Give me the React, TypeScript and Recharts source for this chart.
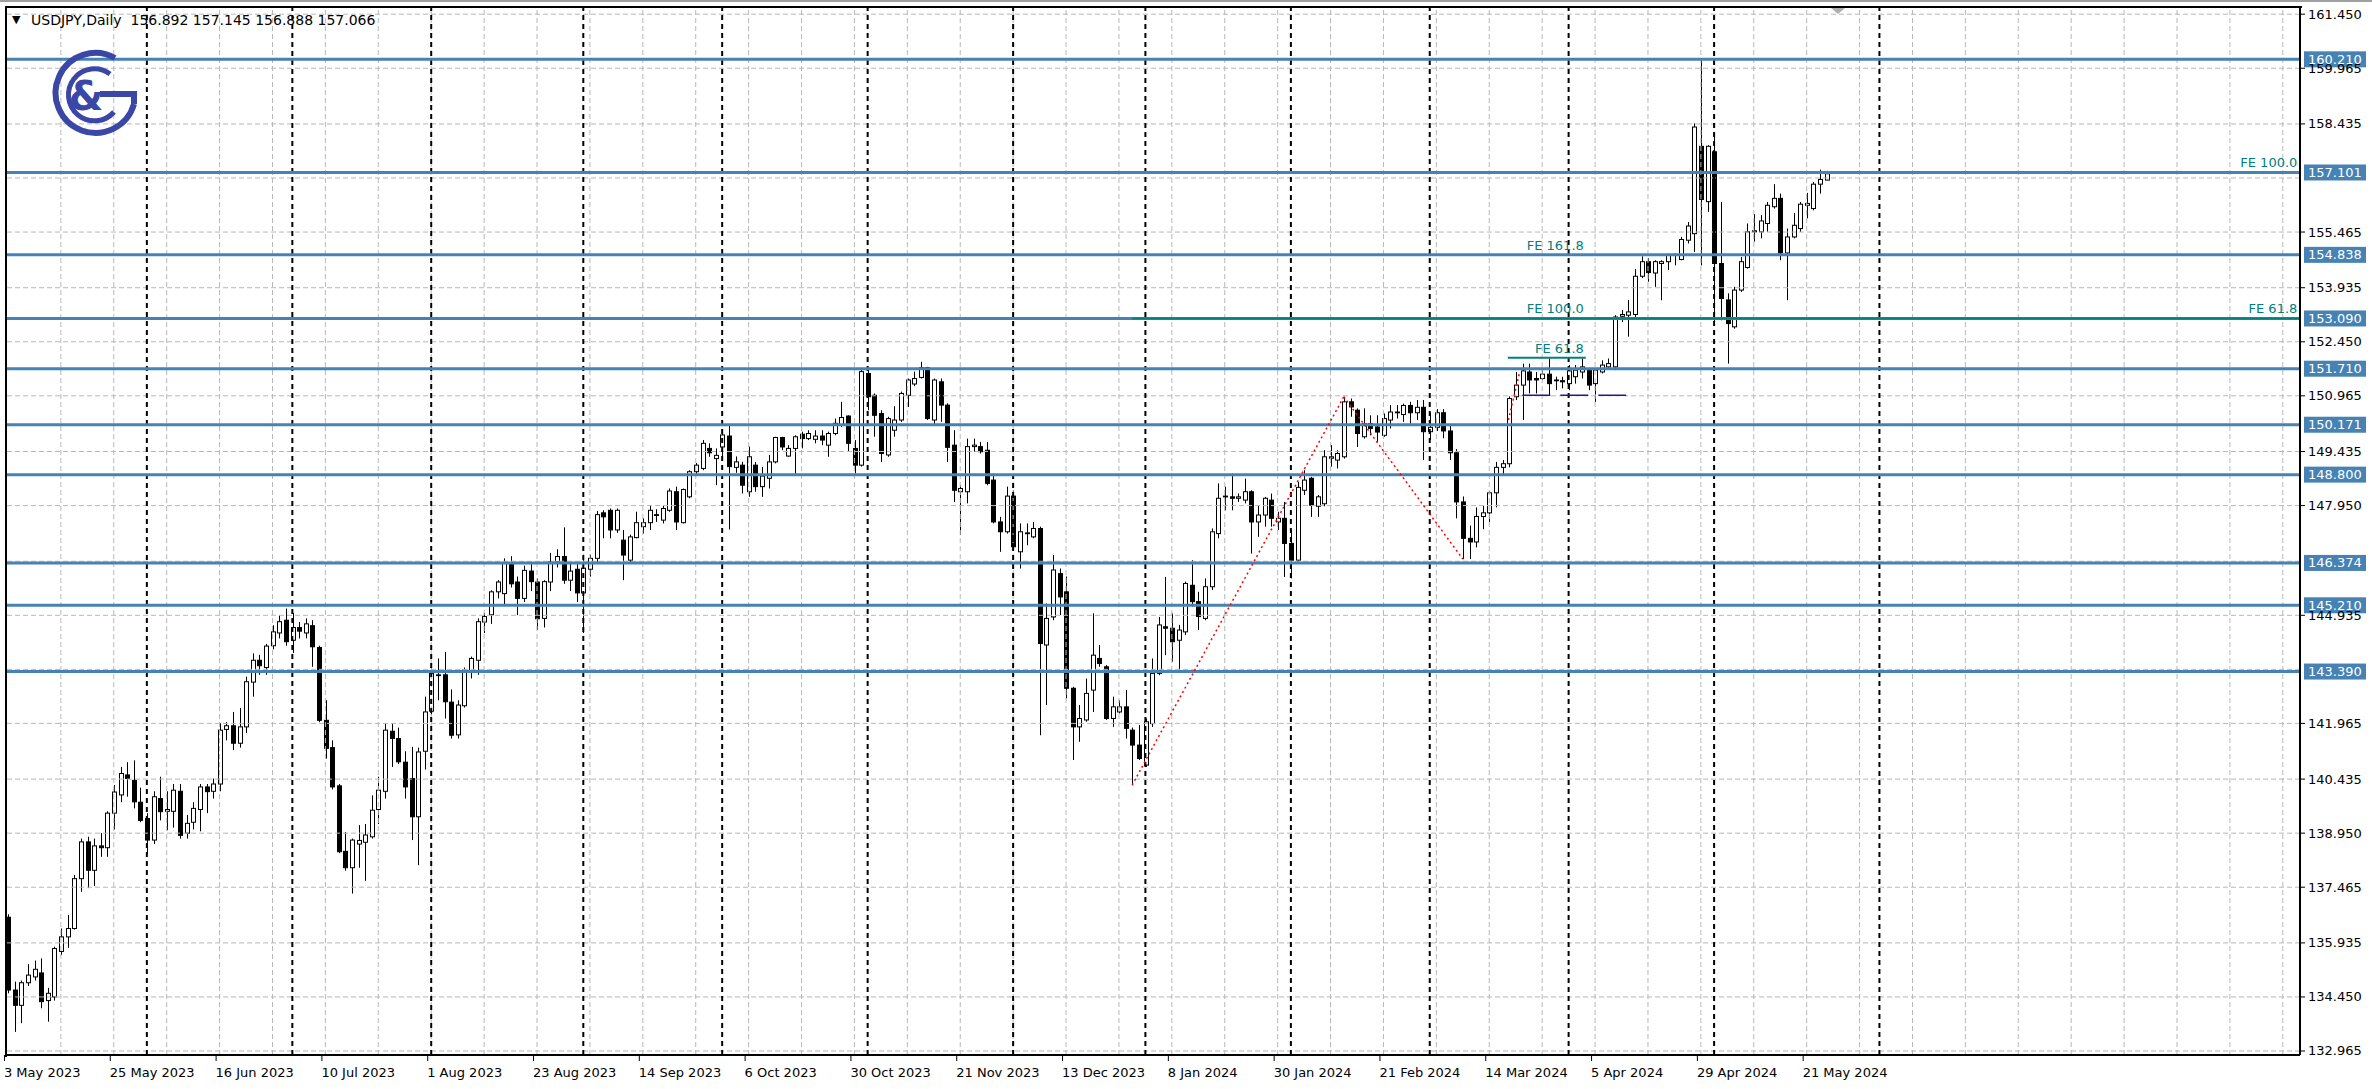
import React from "react";
import { ComposedChart, Bar, XAxis, YAxis, ReferenceLine, ReferenceDot } from "recharts";

document.body.style.margin = "0";

type Ohlc = [number, number, number, number]; // open, high, low, close

// daily candles, one array per month
const MAY_2023: Ohlc[] = [
  [136.64, 136.72, 134.55, 134.64], [134.64, 134.87, 133.49, 134.22], [134.22, 134.9, 133.73, 134.84],
  [134.84, 135.35, 134.75, 135.05], [135.0, 135.45, 134.9, 135.21], [135.11, 135.51, 134.14, 134.32],
  [134.35, 134.7, 133.77, 134.55], [134.45, 135.83, 134.35, 135.78], [135.7, 136.33, 135.6, 136.1],
  [136.1, 136.7, 135.8, 136.33], [136.33, 137.8, 136.3, 137.7], [137.7, 138.8, 137.34, 138.71],
  [138.71, 138.85, 137.44, 137.93], [137.93, 138.8, 137.5, 138.6], [138.6, 138.95, 138.3, 138.55],
  [138.55, 139.55, 138.3, 139.5], [139.5, 140.27, 139.05, 140.08], [140.0, 140.77, 139.8, 140.59],
  [140.55, 140.9, 139.95, 140.45], [140.4, 140.95, 139.63, 139.81], [139.8, 140.2, 139.25, 139.3],
];
const JUN_2023: Ohlc[] = [
  [139.35, 139.5, 138.39, 138.76], [138.76, 140.1, 138.65, 139.95], [139.9, 140.5, 139.3, 139.54],
  [139.55, 140.1, 139.03, 139.6], [139.55, 140.3, 139.1, 140.13], [140.1, 140.3, 138.8, 138.89],
  [138.95, 139.45, 138.8, 139.22], [139.25, 139.8, 139.05, 139.63], [139.6, 140.3, 139.0, 140.22],
  [140.22, 140.3, 139.5, 140.09], [140.1, 140.45, 139.9, 140.3], [140.3, 141.97, 140.1, 141.78],
  [141.8, 142.0, 141.5, 141.9], [141.9, 142.28, 141.23, 141.42], [141.42, 142.39, 141.3, 141.87],
  [141.87, 143.25, 141.7, 143.11], [143.1, 143.89, 142.7, 143.7], [143.7, 143.85, 143.3, 143.55],
  [143.5, 144.15, 143.3, 144.09], [144.1, 144.66, 144.0, 144.48], [144.45, 144.94, 144.3, 144.76],
  [144.8, 145.12, 144.1, 144.21],
];
const JUL_2023: Ohlc[] = [
  [144.25, 145.0, 143.9, 144.6], [144.6, 144.75, 144.3, 144.5], [144.45, 144.85, 144.3, 144.7],
  [144.65, 144.8, 143.52, 144.07], [144.05, 144.1, 142.0, 142.05], [142.05, 142.6, 141.0, 141.28],
  [141.3, 141.5, 140.15, 140.22], [140.25, 140.3, 138.4, 138.44], [138.45, 138.98, 137.92, 138.0],
  [138.0, 138.8, 137.29, 138.76], [138.65, 139.17, 138.0, 138.75], [138.7, 139.2, 137.64, 138.9],
  [138.85, 139.99, 138.8, 139.58], [139.6, 140.5, 139.2, 140.13], [140.1, 141.97, 139.9, 141.78],
  [141.75, 141.95, 140.77, 141.55], [141.55, 141.85, 140.85, 140.91], [140.9, 141.2, 139.9, 140.22],
  [140.45, 141.32, 138.76, 139.4], [139.4, 141.3, 138.07, 141.18], [141.2, 142.7, 140.7, 142.28],
];
const AUG_2023: Ohlc[] = [
  [142.3, 143.61, 142.2, 143.34], [143.3, 143.75, 142.6, 143.3], [143.3, 143.93, 142.1, 142.56],
  [142.55, 142.9, 141.55, 141.64], [141.65, 142.6, 141.55, 142.47], [142.45, 143.5, 142.4, 143.43],
  [143.4, 143.8, 143.2, 143.75], [143.7, 144.85, 143.3, 144.76], [144.75, 145.0, 144.45, 144.9],
  [144.95, 145.62, 144.7, 145.58], [145.58, 145.9, 145.4, 145.85], [145.53, 146.5, 145.2, 146.36],
  [146.35, 146.56, 145.7, 145.8], [145.85, 146.0, 144.94, 145.4], [145.4, 146.3, 145.3, 146.17],
  [146.15, 146.4, 145.6, 145.86], [145.85, 145.95, 144.53, 144.84], [144.85, 145.9, 144.6, 145.86],
  [145.85, 146.65, 145.6, 146.4], [146.4, 146.75, 146.25, 146.55], [146.55, 147.35, 145.8, 145.9],
  [145.9, 146.4, 145.6, 146.15], [146.2, 146.35, 145.3, 145.55],
];
const SEP_2023: Ohlc[] = [
  [145.55, 146.6, 144.45, 146.23], [146.2, 146.6, 146.0, 146.5], [146.5, 147.8, 146.4, 147.7],
  [147.75, 147.82, 147.05, 147.64], [147.82, 147.87, 147.05, 147.28], [147.28, 147.87, 147.2, 147.82],
  [147.0, 147.28, 145.9, 146.59], [146.45, 147.15, 146.4, 147.09], [147.07, 147.78, 147.05, 147.48],
  [147.37, 147.6, 147.18, 147.48], [147.48, 147.96, 147.28, 147.82], [147.7, 147.85, 147.5, 147.68],
  [147.55, 147.96, 147.46, 147.87], [147.82, 148.42, 147.78, 148.35], [148.33, 148.47, 147.28, 147.5],
  [147.48, 148.42, 147.46, 148.39], [148.19, 148.92, 148.15, 148.88], [148.88, 149.12, 148.8, 149.06],
  [148.97, 149.75, 148.92, 149.66], [149.52, 149.66, 149.29, 149.4], [149.24, 149.52, 148.51, 149.33],
];
const OCT_2023: Ohlc[] = [
  [149.56, 149.93, 149.29, 149.89], [149.86, 150.16, 147.29, 149.02], [149.0, 149.3, 148.85, 149.15],
  [149.06, 149.15, 148.28, 148.51], [148.33, 149.57, 148.19, 149.29], [149.06, 149.15, 148.33, 148.47],
  [148.47, 149.01, 148.19, 148.76], [148.7, 149.34, 148.42, 149.15], [149.15, 149.84, 149.11, 149.82],
  [149.82, 149.84, 149.47, 149.56], [149.31, 149.61, 149.29, 149.52], [149.52, 149.88, 148.79, 149.84],
  [149.91, 149.98, 149.52, 149.79], [149.79, 150.02, 149.75, 149.93], [149.77, 150.02, 149.66, 149.86],
  [149.86, 150.02, 149.61, 149.75], [149.61, 149.98, 149.29, 149.93], [149.93, 150.34, 149.88, 150.21],
  [150.16, 150.8, 150.11, 150.37], [150.41, 150.43, 149.43, 149.66], [149.52, 149.75, 148.83, 149.06],
  [149.06, 151.72, 149.02, 151.63],
];
const NOV_2023: Ohlc[] = [
  [151.58, 151.69, 150.57, 150.94], [150.98, 151.03, 149.84, 150.43], [150.48, 150.57, 149.15, 149.38],
  [149.34, 150.39, 149.29, 150.34], [150.02, 150.68, 149.84, 150.3], [150.3, 151.08, 150.25, 151.03],
  [150.98, 151.44, 150.66, 151.4], [151.29, 151.63, 151.23, 151.44], [151.47, 151.9, 151.44, 151.74],
  [151.74, 151.76, 150.3, 150.34], [150.3, 151.44, 150.16, 151.4], [151.35, 151.44, 150.25, 150.71],
  [150.71, 150.76, 149.15, 149.55], [149.61, 150.02, 148.05, 148.37], [148.33, 148.51, 147.14, 148.42],
  [148.33, 149.79, 148.01, 149.57], [149.57, 149.79, 149.43, 149.61], [149.57, 149.7, 149.38, 149.43],
  [149.47, 149.7, 148.51, 148.56], [148.65, 148.83, 147.46, 147.5], [147.5, 147.64, 146.68, 147.23],
  [147.23, 148.47, 147.18, 148.21],
];
const DEC_2023: Ohlc[] = [
  [148.21, 148.37, 146.77, 146.82], [146.68, 147.46, 146.22, 147.23], [147.18, 147.46, 146.86, 147.2],
  [147.09, 147.5, 147.05, 147.32], [147.32, 147.37, 141.64, 144.16], [144.12, 145.26, 142.47, 144.85],
  [144.89, 146.59, 144.8, 146.18], [146.08, 146.22, 144.94, 145.44], [145.58, 146.0, 142.65, 142.93],
  [142.93, 142.97, 140.96, 141.87], [141.87, 142.47, 141.46, 142.1], [142.06, 143.2, 142.01, 142.79],
  [142.88, 144.99, 142.28, 143.84], [143.75, 144.12, 143.52, 143.61], [143.52, 143.57, 142.06, 142.1],
  [142.1, 142.7, 141.87, 142.42], [142.28, 142.6, 142.24, 142.42], [142.42, 142.88, 141.55, 141.83],
  [141.78, 141.85, 140.27, 141.37], [141.37, 141.92, 140.96, 141.0],
];
const JAN_2024: Ohlc[] = [
  [140.82, 142.1, 140.77, 142.01], [141.96, 143.75, 141.87, 143.34], [143.34, 144.89, 143.29, 144.67],
  [144.62, 145.99, 143.84, 144.58], [144.58, 144.99, 143.66, 144.21], [144.25, 144.67, 143.43, 144.53],
  [144.48, 145.86, 144.39, 145.81], [145.76, 146.45, 145.17, 145.31], [145.31, 145.58, 144.53, 144.9],
  [144.85, 145.95, 144.8, 145.72], [145.72, 147.32, 145.63, 147.23], [147.18, 148.56, 147.05, 148.15],
  [148.19, 148.47, 147.82, 148.21], [148.19, 148.83, 147.82, 148.15], [148.15, 148.28, 148.05, 148.19],
  [148.1, 148.69, 148.01, 148.33], [148.33, 148.37, 146.63, 147.5], [147.5, 147.96, 147.09, 147.69],
  [147.69, 148.19, 147.37, 148.15], [148.1, 148.28, 147.37, 147.6], [147.5, 147.78, 147.28, 147.6],
  [147.6, 148.05, 145.99, 146.91],
];
const FEB_2024: Ohlc[] = [
  [146.91, 147.28, 145.95, 146.45], [146.45, 148.6, 146.36, 148.45], [148.37, 148.92, 148.24, 148.65],
  [148.7, 148.74, 147.64, 147.96], [147.93, 148.24, 147.64, 148.19], [148.0, 149.47, 147.93, 149.29],
  [149.25, 149.61, 149.02, 149.29], [149.2, 149.47, 148.97, 149.38], [149.29, 150.94, 149.24, 150.8],
  [150.8, 150.89, 150.39, 150.66], [150.57, 150.62, 149.56, 149.93], [149.84, 150.62, 149.79, 150.2],
  [150.2, 150.43, 149.88, 150.07], [150.11, 150.43, 149.7, 149.97], [149.88, 150.48, 149.84, 150.34],
  [150.3, 150.71, 150.07, 150.52], [150.5, 150.71, 150.34, 150.52], [150.45, 150.75, 150.25, 150.7],
  [150.7, 150.8, 150.2, 150.5], [150.5, 150.85, 150.3, 150.65], [150.65, 150.85, 149.2, 149.98],
];
const MAR_2024: Ohlc[] = [
  [149.98, 150.5, 149.75, 150.1], [150.1, 150.6, 150.0, 150.5], [150.5, 150.6, 149.8, 150.0],
  [150.0, 150.15, 149.2, 149.4], [149.4, 149.5, 147.6, 148.05], [148.05, 148.2, 146.48, 147.05],
  [147.05, 147.4, 146.48, 146.95], [146.95, 147.9, 146.8, 147.65], [147.65, 147.95, 147.3, 147.75],
  [147.75, 148.35, 147.5, 148.3], [148.3, 149.15, 147.9, 149.0], [149.0, 149.2, 148.8, 149.1],
  [149.1, 150.95, 149.0, 150.89], [150.94, 151.62, 150.85, 151.26], [151.26, 151.85, 150.3, 151.65],
  [151.62, 151.85, 151.03, 151.4], [151.44, 151.62, 151.03, 151.4], [151.44, 151.67, 151.39, 151.56],
  [151.56, 151.99, 150.98, 151.3], [151.4, 151.49, 151.12, 151.39], [151.38, 151.49, 151.17, 151.35],
];
const APR_2024: Ohlc[] = [
  [151.3, 151.81, 151.12, 151.65], [151.49, 151.81, 151.3, 151.67], [151.62, 151.99, 151.44, 151.76],
  [151.67, 151.72, 151.12, 151.26], [151.3, 151.72, 150.8, 151.67], [151.62, 151.94, 151.58, 151.81],
  [151.76, 151.99, 151.72, 151.85], [151.76, 153.18, 151.67, 153.13], [153.15, 153.32, 152.99, 153.2],
  [153.18, 153.6, 152.59, 153.27], [153.2, 154.45, 153.1, 154.25], [154.25, 154.8, 154.2, 154.65],
  [154.65, 154.75, 154.1, 154.35], [154.34, 154.69, 153.96, 154.65], [154.6, 154.69, 153.59, 154.65],
  [154.65, 154.87, 154.42, 154.83], [154.83, 154.87, 154.55, 154.85], [154.71, 155.33, 154.69, 155.26],
  [155.24, 155.74, 155.15, 155.63], [155.42, 158.45, 154.92, 158.35], [157.82, 160.23, 154.55, 156.36],
  [156.3, 157.85, 156.02, 157.82],
];
const MAY_2024: Ohlc[] = [
  [157.67, 158.08, 153.0, 154.6], [154.6, 156.29, 153.04, 153.64], [153.6, 153.78, 151.85, 152.95],
  [152.86, 153.96, 152.81, 153.87], [153.87, 154.78, 153.82, 154.65], [154.49, 155.7, 154.46, 155.47],
  [155.47, 155.96, 155.2, 155.5], [155.47, 155.93, 155.29, 155.77], [155.7, 156.29, 155.47, 156.2],
  [156.16, 156.78, 156.11, 156.39], [156.39, 156.52, 154.69, 154.89], [154.89, 155.56, 153.59, 155.33],
  [155.33, 155.99, 155.29, 155.65], [155.56, 156.29, 155.47, 156.23], [156.2, 156.54, 155.84, 156.25],
  [156.11, 156.84, 156.06, 156.78], [156.78, 157.18, 156.52, 156.91], [156.892, 157.145, 156.888, 157.066],
];

// horizontal support/resistance levels (price boxes on the right)
const LEVELS = [160.21, 157.101, 154.838, 153.09, 151.71, 150.171, 148.8, 146.374, 145.21, 143.39];

// price scale
const Y_TICKS = [161.45, 159.965, 158.435, 155.465, 153.935, 152.45, 150.965, 149.435, 147.95,
  144.935, 141.965, 140.435, 138.95, 137.465, 135.935, 134.45, 132.965];
const Y_GRID = [...Y_TICKS, 156.95, 146.42, 143.45];

// date scale (bar index -> label)
const X_LABEL_IDX = [0, 16, 32, 48, 64, 80, 96, 112, 128, 144, 160, 176, 192, 208, 224, 240, 256, 272];
const X_LABELS = ["3 May 2023", "25 May 2023", "16 Jun 2023", "10 Jul 2023", "1 Aug 2023", "23 Aug 2023",
  "14 Sep 2023", "6 Oct 2023", "30 Oct 2023", "21 Nov 2023", "13 Dec 2023", "8 Jan 2024", "30 Jan 2024",
  "21 Feb 2024", "14 Mar 2024", "5 Apr 2024", "29 Apr 2024", "21 May 2024"];

// month separators (bar index of first day of month)
const MONTH_STARTS = [21, 43, 64, 87, 108, 130, 152, 172, 194, 215, 236, 258, 283];

// fibo expansion drawings: red swing lines and levels
const SWING = [{ i: 170, p: 140.27 }, { i: 202, p: 150.94 }, { i: 220, p: 146.48 }];
const SWING_SMALL = [{ i: 226.9, p: 150.3 }, { i: 228.6, p: 151.62 }];
const FE_LEVELS = [
  { text: "FE 100.0", from: 170, to: 346.5, p: 157.101, line: false },
  { text: "FE 61.8", from: 170, to: 346.5, p: 153.09, line: true },
  { text: "FE 161.8", from: 226.8, to: 238.6, p: 154.838, line: false },
  { text: "FE 100.0", from: 226.8, to: 238.6, p: 153.09, line: false },
  { text: "FE 61.8", from: 226.8, to: 238.6, p: 152.01, line: true },
];
const NAVY_LINE = { from: 229, to: 244.7, p: 150.98 };

const BARS = [MAY_2023, JUN_2023, JUL_2023, AUG_2023, SEP_2023, OCT_2023, NOV_2023, DEC_2023,
  JAN_2024, FEB_2024, MAR_2024, APR_2024, MAY_2024]
  .flat()
  .map(([o, h, l, c], i) => ({ i, o, h, l, c }));

const X_DOMAIN: [number, number] = [-0.3, 346.6];
const Y_DOMAIN: [number, number] = [132.855, 161.62];
const FONT = "DejaVu Sans, Tahoma, sans-serif";
const BLUE = "#4682b4";
const TEAL = "#008080";
const GRID = "#b8b8b8";

const V_GRID = Array.from({ length: 43 }, (_, k) => (k + 1) * 8);

function Candle(props: any) {
  const { x, y, width, height, payload } = props;
  if (x == null || y == null || !payload) return null;
  const top = Math.min(y, y + height);
  const bot = Math.max(y, y + height);
  const { o, h, l, c } = payload;
  const span = h - l || 1;
  const py = (p: number) => top + ((h - p) / span) * (bot - top);
  const cx = Math.round(x + width / 2) + 0.5;
  const bTop = py(Math.max(o, c));
  const bBot = py(Math.min(o, c));
  return (
    <g>
      <line x1={cx} x2={cx} y1={top} y2={bot} stroke="#000" strokeWidth={1} />
      <rect x={cx - 2} y={bTop} width={4} height={Math.max(bBot - bTop, 0.8)}
        fill={c >= o ? "#fff" : "#000"} stroke="#000" strokeWidth={1} />
    </g>
  );
}

function PriceTick(props: any) {
  const { x, y, payload } = props;
  return (
    <g>
      <line x1={x - 8} x2={x - 3} y1={y} y2={y} stroke="#000" />
      <text x={x} y={y + 4.5} fontSize={13} fontFamily={FONT} fill="#000">
        {Number(payload.value).toFixed(3)}
      </text>
    </g>
  );
}

function DateTick(props: any) {
  const { x, y, payload } = props;
  const k = X_LABEL_IDX.indexOf(payload.value);
  return (
    <g>
      <line x1={x - 3.5} x2={x - 3.5} y1={y - 8} y2={y - 2} stroke="#000" />
      <text x={x - 4} y={y + 14} fontSize={13} fontFamily={FONT} fill="#000">{X_LABELS[k]}</text>
    </g>
  );
}

function PriceBox(props: any, value: number) {
  const vb = props.viewBox || {};
  const bx = vb.x + vb.width + 4;
  return (
    <g>
      <rect x={bx} y={vb.y - 8} width={62} height={16} fill={BLUE} />
      <text x={bx + 4} y={vb.y + 4.5} fontSize={13} fontFamily={FONT} fill="#fff">{value.toFixed(3)}</text>
    </g>
  );
}

function FeText(text: string) {
  return (props: any) => (
    <text x={props.cx - 2} y={props.cy - 5} textAnchor="end" fontSize={13} fontFamily={FONT} fill={TEAL}>
      {text}
    </text>
  );
}

function Logo() {
  const c = "#3a47a6";
  return (
    <svg width={100} height={100} style={{ position: "absolute", left: 44, top: 44 }} viewBox="0 0 100 100">
      <path d="M 71 14 A 40 40 0 1 0 90 60" fill="none" stroke={c} strokeWidth={6} />
      <path d="M 56 50 L 90 50 L 90 60" fill="none" stroke={c} strokeWidth={6} />
      <path d="M 66 30 A 26 26 0 1 0 70 68" fill="none" stroke={c} strokeWidth={5} />
      <text x={42} y={66} textAnchor="middle" fontSize={40} fontWeight="bold" fontFamily="DejaVu Sans" fill={c}>&amp;</text>
    </svg>
  );
}

export default function App() {
  return (
    <div style={{ position: "relative", width: 2372, height: 1089, background: "#fff", overflow: "hidden" }}>
      <ComposedChart width={2372} height={1089} data={BARS} margin={{ top: 8, right: 0, bottom: 0, left: 6 }}>
        <XAxis type="number" dataKey="i" domain={X_DOMAIN} ticks={X_LABEL_IDX} interval={0} allowDataOverflow
          height={34} tick={<DateTick />} tickLine={false} axisLine={{ stroke: "#000", strokeWidth: 2 }} />
        <YAxis orientation="right" type="number" domain={Y_DOMAIN} ticks={Y_TICKS} interval={0} allowDataOverflow
          width={72} tick={<PriceTick />} tickLine={false} axisLine={{ stroke: "#000", strokeWidth: 2 }} />

        {Y_GRID.map((v) => (
          <ReferenceLine key={"hg" + v} y={v} stroke={GRID} strokeDasharray="5 3" />
        ))}
        {V_GRID.map((v) => (
          <ReferenceLine key={"vg" + v} x={v} stroke={GRID} strokeDasharray="5 3" />
        ))}
        {MONTH_STARTS.map((v) => (
          <ReferenceLine key={"ms" + v} x={v} stroke="#000" strokeWidth={2} strokeDasharray="5 4" />
        ))}

        {LEVELS.map((v) => (
          <ReferenceLine key={"lv" + v} y={v} stroke={BLUE} strokeWidth={3} label={(p: any) => PriceBox(p, v)} />
        ))}

        {FE_LEVELS.filter((f) => f.line).map((f, k) => (
          <ReferenceLine key={"fl" + k} segment={[{ x: f.from, y: f.p }, { x: f.to, y: f.p }]} stroke={TEAL} strokeWidth={2} />
        ))}
        <ReferenceLine segment={[{ x: NAVY_LINE.from, y: NAVY_LINE.p }, { x: NAVY_LINE.to, y: NAVY_LINE.p }]}
          stroke="#1c1c8c" strokeWidth={1.5} strokeDasharray="28 10" />

        {SWING.slice(1).map((pt, k) => (
          <ReferenceLine key={"sw" + k} segment={[{ x: SWING[k].i, y: SWING[k].p }, { x: pt.i, y: pt.p }]}
            stroke="#ff0000" strokeWidth={1.5} strokeDasharray="2 3" />
        ))}
        <ReferenceLine segment={[{ x: SWING_SMALL[0].i, y: SWING_SMALL[0].p }, { x: SWING_SMALL[1].i, y: SWING_SMALL[1].p }]}
          stroke="#ff0000" strokeWidth={1.5} strokeDasharray="2 3" />

        <Bar dataKey={(d: any) => [d.l, d.h]} shape={(p: any) => <Candle {...p} />} barSize={5} isAnimationActive={false} />

        {FE_LEVELS.map((f, k) => (
          <ReferenceDot key={"ft" + k} x={f.to} y={f.p} r={0} shape={FeText(f.text)} />
        ))}
      </ComposedChart>

      <div style={{ position: "absolute", left: 5, top: 6, width: 2295, height: 1049, borderLeft: "2px solid #000", borderTop: "2px solid #000", pointerEvents: "none" }} />
      <div style={{ position: "absolute", left: 0, top: 0, width: 2372, height: 2, background: "#a0a0a0" }} />
      <div style={{ position: "absolute", left: 12, top: 13, fontFamily: FONT, fontSize: 11, color: "#000" }}>▼</div>
      <div style={{ position: "absolute", left: 31, top: 12, fontFamily: FONT, fontSize: 14, color: "#000", whiteSpace: "pre" }}>
        {"USDJPY,Daily  156.892 157.145 156.888 157.066"}
      </div>
      <svg width={14} height={8} style={{ position: "absolute", left: 1831, top: 8 }}>
        <path d="M 0 0 L 14 0 L 7 6 Z" fill="#b0b0b0" />
      </svg>
      <Logo />
    </div>
  );
}
